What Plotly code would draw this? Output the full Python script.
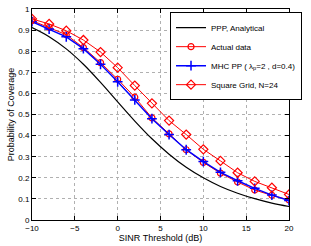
import plotly.graph_objects as go

sinr_db = [-10, -8, -6, -4, -2, 0, 2, 4, 6, 8, 10, 12, 14, 16, 18, 20]

ppp_analytical = [0.912, 0.869, 0.811, 0.738, 0.652, 0.560, 0.469, 0.385, 0.312, 0.250,
                  0.200, 0.159, 0.127, 0.101, 0.080, 0.064]
actual_data = [0.945, 0.913, 0.878, 0.817, 0.746, 0.667, 0.582, 0.484, 0.408, 0.333,
               0.273, 0.222, 0.180, 0.142, 0.117, 0.095]
mhc_pp = [0.940, 0.905, 0.868, 0.812, 0.738, 0.655, 0.569, 0.480, 0.405, 0.333,
          0.277, 0.226, 0.186, 0.150, 0.118, 0.092]
square_grid = [0.953, 0.929, 0.897, 0.853, 0.796, 0.722, 0.637, 0.553, 0.471, 0.405,
               0.335, 0.280, 0.224, 0.183, 0.153, 0.121]

x_ticks = [-10, -5, 0, 5, 10, 15, 20]
y_ticks = [0, 0.1, 0.2, 0.3, 0.4, 0.5, 0.6, 0.7, 0.8, 0.9, 1]
y_tick_labels = ["0", "0.1", "0.2", "0.3", "0.4", "0.5", "0.6", "0.7", "0.8", "0.9", "1"]

fig = go.Figure()
fig.add_trace(go.Scatter(x=sinr_db, y=ppp_analytical, mode="lines", name="PPP, Analytical",
                         line=dict(color="black", width=1.2, shape="spline")))
fig.add_trace(go.Scatter(x=sinr_db, y=actual_data, mode="lines+markers", name="Actual data",
                         line=dict(color="red", width=1),
                         marker=dict(symbol="circle-open", size=6, color="red", line=dict(width=1.2))))
fig.add_trace(go.Scatter(x=sinr_db, y=mhc_pp, mode="lines+markers",
                         name="MHC PP ( λ<sub>p</sub>=2 , d=0.4)",
                         line=dict(color="blue", width=1.5),
                         marker=dict(symbol="cross-thin-open", size=7, color="blue", line=dict(width=1.5, color="blue"))))
fig.add_trace(go.Scatter(x=sinr_db, y=square_grid, mode="lines+markers", name="Square Grid, N=24",
                         line=dict(color="red", width=1),
                         marker=dict(symbol="diamond-open", size=7, color="red", line=dict(width=1.2))))

axis_common = dict(showline=True, linecolor="black", linewidth=1, mirror="ticks",
                   ticks="inside", ticklen=4, tickcolor="black", automargin=False,
                   showgrid=True, gridcolor="#b0b0b0", griddash="dot", gridwidth=1,
                   zeroline=False, tickfont=dict(size=8, color="black"))

fig.update_xaxes(range=[-10, 20], tickvals=x_ticks,
                 title=dict(text="SINR Threshold (dB)", font=dict(size=9, color="black"), standoff=2),
                 **axis_common)
fig.update_yaxes(range=[0, 1], tickvals=y_ticks, ticktext=y_tick_labels,
                 title=dict(text="Probability of Coverage", font=dict(size=9, color="black"), standoff=2),
                 **axis_common)

fig.update_layout(
    width=311, height=246,
    margin=dict(l=32, r=9, t=9, b=26),
    paper_bgcolor="white", plot_bgcolor="white",
    font=dict(family="Liberation Sans, Arial, sans-serif", size=8, color="black"),
    showlegend=True,
    legend=dict(x=0.537, y=0.985, xanchor="left", yanchor="top",
                bgcolor="white", bordercolor="black", borderwidth=1,
                font=dict(size=8), itemwidth=30, tracegroupgap=0),
)

fig.write_html("out.html", config={"displayModeBar": False},
               post_script="document.body.style.margin='0';")
